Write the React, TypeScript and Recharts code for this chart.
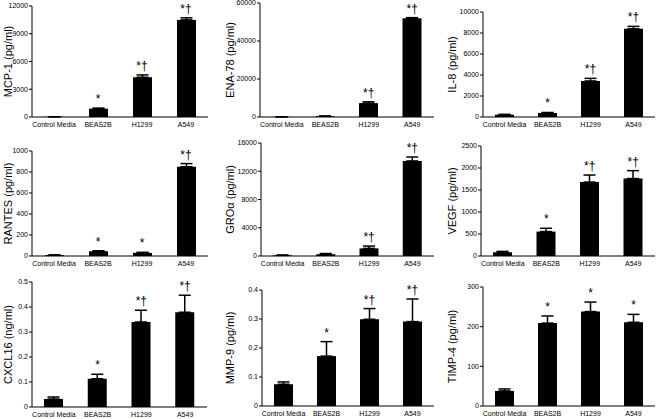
import React from 'react';
import { ComposedChart, Bar, Line, XAxis, YAxis, ErrorBar, LabelList } from 'recharts';

const categories = ['Control Media', 'BEAS2B', 'H1299', 'A549'];

const mcp1Values = [30, 900, 4300, 10500];
const mcp1Errors = [0, 60, 250, 220];
const mcp1Sig = ['', '*', '*†', '*†'];
const mcp1Ticks = [0, 3000, 6000, 9000, 12000];

const ena78Values = [100, 400, 7300, 52000];
const ena78Errors = [0, 150, 700, 300];
const ena78Sig = ['', '', '*†', '*†'];
const ena78Ticks = [0, 20000, 40000, 60000];

const il8Values = [220, 380, 3430, 8400];
const il8Errors = [30, 50, 250, 230];
const il8Sig = ['', '*', '*†', '*†'];
const il8Ticks = [0, 2000, 4000, 6000, 8000, 10000];

const rantesValues = [8, 45, 30, 850];
const rantesErrors = [3, 5, 5, 30];
const rantesSig = ['', '*', '*', '*†'];
const rantesTicks = [0, 200, 400, 600, 800, 1000];

const groValues = [100, 250, 1080, 13460];
const groErrors = [30, 100, 330, 560];
const groSig = ['', '', '*†', '*†'];
const groTicks = [0, 4000, 8000, 12000, 16000];

const vegfValues = [85, 555, 1680, 1760];
const vegfErrors = [20, 75, 160, 180];
const vegfSig = ['', '*', '*†', '*†'];
const vegfTicks = [0, 500, 1000, 1500, 2000, 2500];

const cxcl16Values = [0.032, 0.113, 0.34, 0.379];
const cxcl16Errors = [0.008, 0.018, 0.047, 0.068];
const cxcl16Sig = ['', '*', '*†', '*†'];
const cxcl16Ticks = [0, 0.1, 0.2, 0.3, 0.4, 0.5];

const mmp9Values = [0.075, 0.172, 0.299, 0.291];
const mmp9Errors = [0.008, 0.05, 0.037, 0.078];
const mmp9Sig = ['', '*', '*†', '*†'];
const mmp9Ticks = [0, 0.1, 0.2, 0.3, 0.4];

const timp4Values = [38, 209, 238, 211];
const timp4Errors = [5, 18, 24, 20];
const timp4Sig = ['', '*', '*', '*'];
const timp4Ticks = [0, 100, 200, 300];

const FONT = 'Liberation Sans, Arial, sans-serif';

type PanelDef = {
  label: string;
  values: number[];
  errors: number[];
  sig: string[];
  ticks: number[];
  colLeft: number;
  x0: number;
  x1: number;
  top: number;
  base: number;
  labelX: number;
};

const panels: PanelDef[] = [
  { label: 'MCP-1 (pg/ml)', values: mcp1Values, errors: mcp1Errors, sig: mcp1Sig, ticks: mcp1Ticks, colLeft: 0, x0: 32, x1: 208, top: 6, base: 117, labelX: 8 },
  { label: 'ENA-78 (pg/ml)', values: ena78Values, errors: ena78Errors, sig: ena78Sig, ticks: ena78Ticks, colLeft: 221, x0: 260, x1: 434, top: 3, base: 117, labelX: 9 },
  { label: 'IL-8 (pg/ml)', values: il8Values, errors: il8Errors, sig: il8Sig, ticks: il8Ticks, colLeft: 442, x0: 483, x1: 655, top: 12, base: 117, labelX: 10 },
  { label: 'RANTES (pg/ml)', values: rantesValues, errors: rantesErrors, sig: rantesSig, ticks: rantesTicks, colLeft: 0, x0: 32, x1: 208, top: 151, base: 256, labelX: 8 },
  { label: 'GROα (pg/ml)', values: groValues, errors: groErrors, sig: groSig, ticks: groTicks, colLeft: 221, x0: 261, x1: 434, top: 143, base: 256, labelX: 9 },
  { label: 'VEGF (pg/ml)', values: vegfValues, errors: vegfErrors, sig: vegfSig, ticks: vegfTicks, colLeft: 442, x0: 481, x1: 655, top: 146, base: 256, labelX: 10 },
  { label: 'CXCL16 (ng/ml)', values: cxcl16Values, errors: cxcl16Errors, sig: cxcl16Sig, ticks: cxcl16Ticks, colLeft: 0, x0: 32, x1: 207, top: 282, base: 407, labelX: 8 },
  { label: 'MMP-9 (pg/ml)', values: mmp9Values, errors: mmp9Errors, sig: mmp9Sig, ticks: mmp9Ticks, colLeft: 221, x0: 262, x1: 434, top: 290, base: 406, labelX: 9 },
  { label: 'TIMP-4 (pg/ml)', values: timp4Values, errors: timp4Errors, sig: timp4Sig, ticks: timp4Ticks, colLeft: 442, x0: 483, x1: 655, top: 287, base: 406, labelX: 10 },
];

const TOP_M = 20;
const X_H = 16;

function Panel({ p }: { p: PanelDef }) {
  const data = categories.map((c, i) => ({
    name: c,
    value: p.values[i],
    err: [0, p.errors[i]],
    top: p.values[i] + p.errors[i],
    sig: p.sig[i],
  }));
  const yW = p.x0 - p.colLeft;
  const width = p.x1 - p.colLeft + 4;
  const height = p.base - p.top + TOP_M + X_H;
  const plotH = p.base - p.top;
  const max = p.ticks[p.ticks.length - 1];
  return (
    <div style={{ position: 'absolute', left: p.colLeft, top: p.top - TOP_M, width, height }}>
      <ComposedChart
        width={width}
        height={height}
        data={data}
        margin={{ top: TOP_M, right: 4, left: 0, bottom: 0 }}
        barSize={19}
      >
        <XAxis
          dataKey="name"
          interval={0}
          height={X_H}
          tickLine={false}
          tickSize={0}
          tickMargin={5}
          axisLine={{ stroke: '#000', strokeWidth: 1 }}
          tick={{ fontSize: 7, fill: '#000', fontFamily: FONT }}
        />
        <YAxis
          width={yW}
          domain={[0, max]}
          ticks={p.ticks}
          interval={0}
          tickSize={3}
          tickMargin={1}
          axisLine={{ stroke: '#000', strokeWidth: 1 }}
          tickLine={{ stroke: '#000', strokeWidth: 1 }}
          tick={{ fontSize: 7, fill: '#000', fontFamily: FONT }}
          label={{
            content: () => (
              <text
                x={p.labelX}
                y={TOP_M + plotH / 2}
                transform={`rotate(-90 ${p.labelX} ${TOP_M + plotH / 2})`}
                textAnchor="middle"
                dominantBaseline="central"
                fontSize={11}
                fontFamily={FONT}
                fill="#000"
              >
                {p.label}
              </text>
            ),
          }}
        />
        <Bar dataKey="value" fill="#000" isAnimationActive={false}>
          <ErrorBar dataKey="err" direction="y" width={6} stroke="#000" strokeWidth={1.5} />
        </Bar>
        <Line
          dataKey="top"
          stroke="none"
          dot={false}
          activeDot={false}
          isAnimationActive={false}
        >
          <LabelList dataKey="sig" position="top" offset={5} fill="#000" fontSize={12} fontFamily={FONT} />
        </Line>
      </ComposedChart>
    </div>
  );
}

export default function App() {
  return (
    <div style={{ position: 'absolute', left: 0, top: 0, width: 664, height: 419, background: '#fff' }}>
      {panels.map((p) => (
        <Panel key={p.label} p={p} />
      ))}
    </div>
  );
}
